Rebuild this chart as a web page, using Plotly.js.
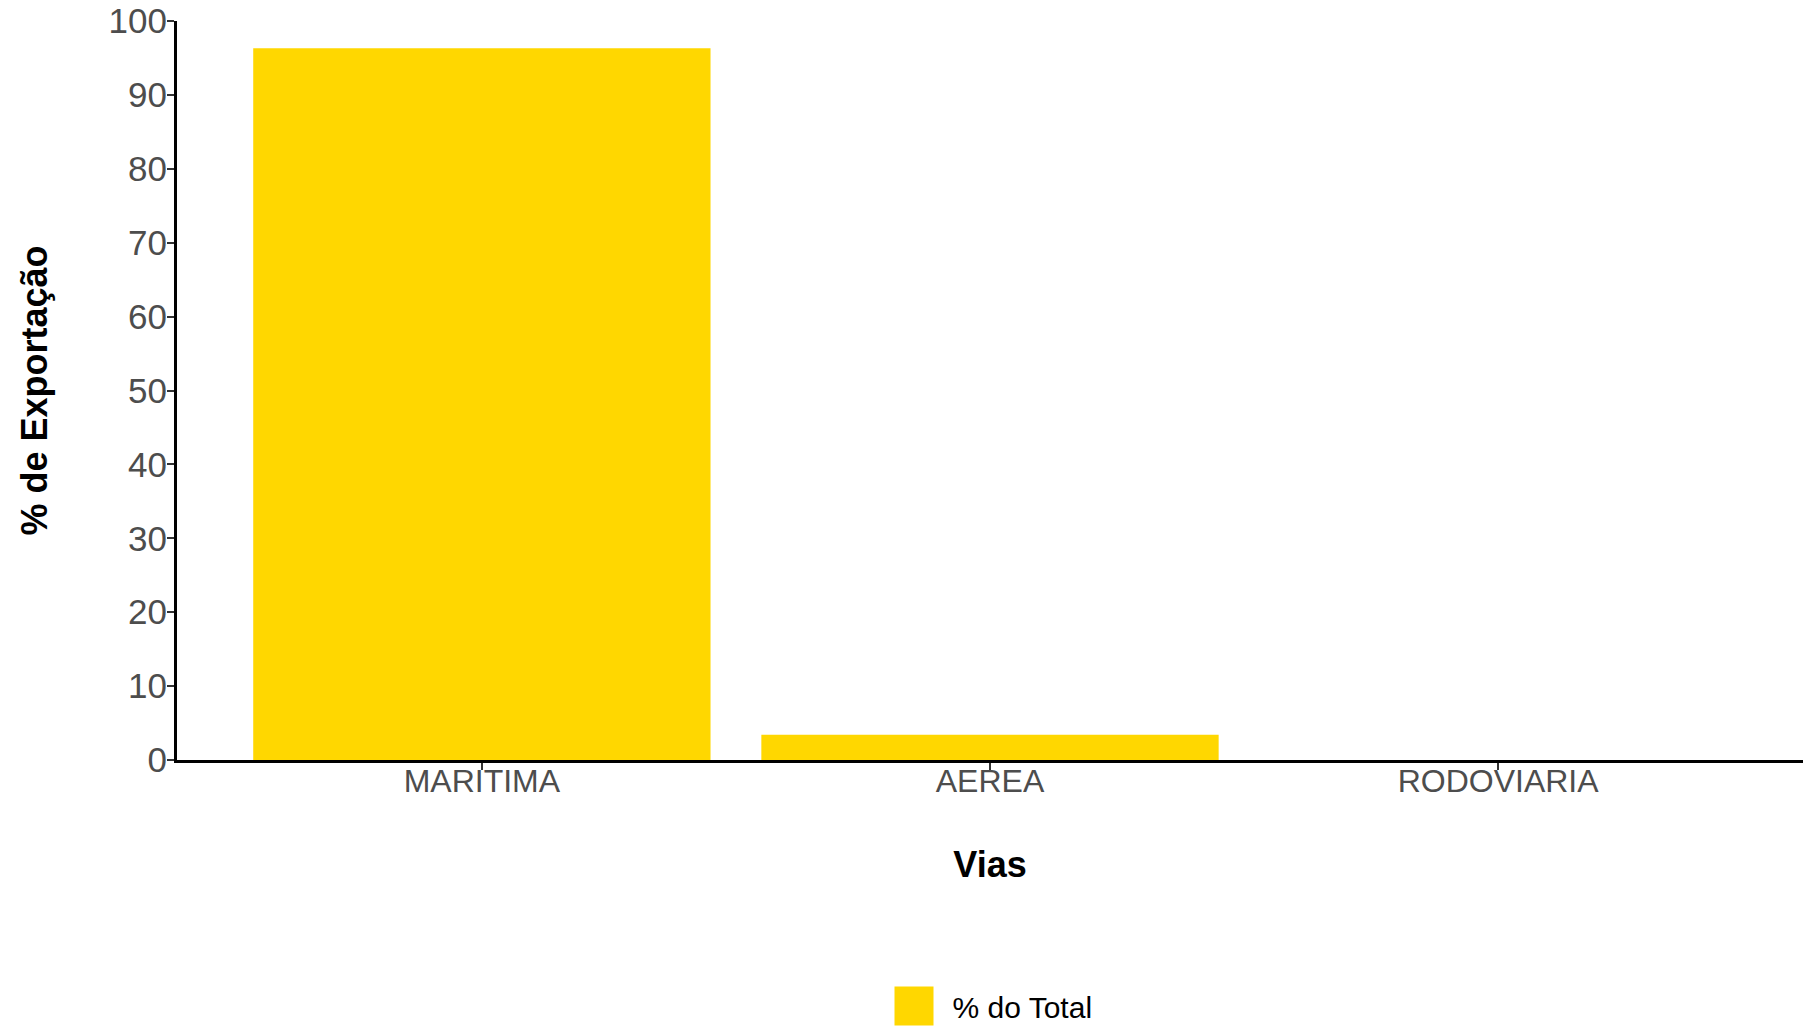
<!DOCTYPE html>
<html>
<head>
<meta charset="utf-8">
<script src="https://cdn.plot.ly/plotly-3.0.1.min.js"></script>
<style>html,body{margin:0;padding:0;background:#fff;overflow:hidden;}#chart{width:1807px;height:1060px;}</style>
</head>
<body>
<div id="chart"></div>
<script>
const categories = ["MARITIMA", "AEREA", "RODOVIARIA"];
const percentTotal = [96.3, 3.4, 0.01];
const seriesName = "% do Total";
const yTickVals = [0, 10, 20, 30, 40, 50, 60, 70, 80, 90, 100];

const FONT = "Liberation Sans, Arial, sans-serif";

const trace = {
  type: "bar",
  x: categories,
  y: percentTotal,
  name: seriesName,
  marker: {color: "#FFD700", line: {width: 0}},
  showlegend: true,
  hoverinfo: "x+y"
};

const layout = {
  width: 1807, height: 1060,
  margin: {l: 177, r: 4, t: 21, b: 300},
  paper_bgcolor: "#ffffff",
  plot_bgcolor: "#ffffff",
  bargap: 0.1,
  font: {family: FONT},
  xaxis: {
    range: [-0.6, 2.6],
    showgrid: false, zeroline: false,
    showline: true, linecolor: "#000000", linewidth: 3,
    ticks: "outside", ticklen: 7, tickwidth: 2, tickcolor: "#333333",
    ticklabelstandoff: -16,
    tickfont: {family: FONT, size: 32, color: "#4D4D4D"},
    title: {text: "<b>Vias</b>", font: {family: FONT, size: 36, color: "#000000"}, standoff: 54},
    automargin: false
  },
  yaxis: {
    range: [0, 100],
    tickvals: yTickVals,
    ticktext: yTickVals.map(String),
    showgrid: false, zeroline: false,
    showline: true, linecolor: "#000000", linewidth: 3,
    ticks: "outside", ticklen: 7, tickwidth: 2, tickcolor: "#333333",
    ticklabelstandoff: -7,
    tickfont: {family: FONT, size: 35, color: "#4D4D4D"},
    title: {text: "<b>% de Exportação</b>", font: {family: FONT, size: 36, color: "#000000"}, standoff: 50},
    automargin: false
  },
  showlegend: true,
  legend: {
    orientation: "h",
    x: 0.5, xanchor: "center",
    y: -0.333, yanchor: "middle",
    font: {family: FONT, size: 30, color: "#000000"},
    itemwidth: 60,
    bgcolor: "rgba(0,0,0,0)"
  }
};

Plotly.newPlot("chart", [trace], layout, {displayModeBar: false, staticPlot: true}).then(function(gd){
  gd.querySelectorAll(".legend .legendpoints path").forEach(function(p){
    p.setAttribute("transform", "translate(31.5,0) scale(3.25)");
  });
});
</script>
</body>
</html>
